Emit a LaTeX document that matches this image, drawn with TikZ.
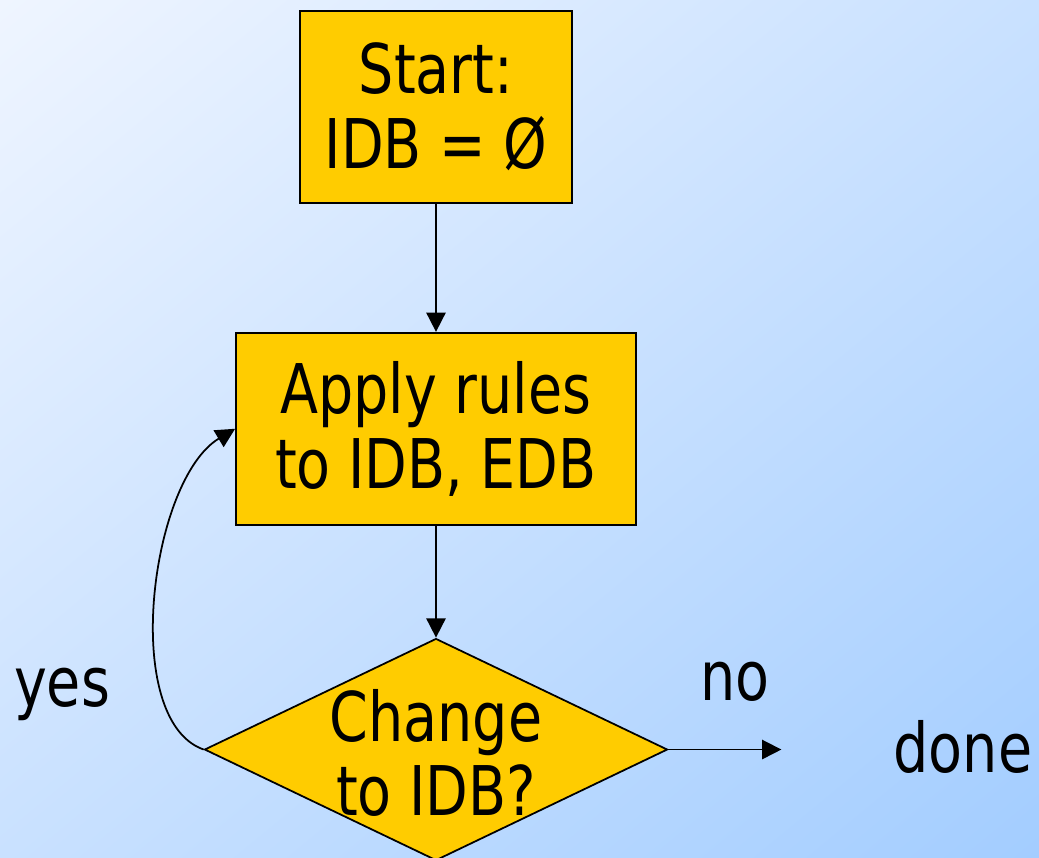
\documentclass[tikz,border=0pt]{standalone}
\usepackage{fontspec}
\setmainfont[FakeStretch=0.9]{DejaVu Sans Condensed}
\usepackage{tikz}
\usetikzlibrary{shapes.geometric,arrows.meta,positioning,calc,shadings}

\definecolor{gold}{HTML}{FFCC00}
\definecolor{bgtop}{HTML}{EFF5FF}
\definecolor{bgmid}{HTML}{C9E1FF}
\definecolor{bgbot}{HTML}{A3CDFF}

\begin{document}
\begin{tikzpicture}[
    box/.style={rectangle, draw, line width=1pt, fill=gold, align=center, font=\fontsize{39}{42.5}\selectfont},
    decision/.style={diamond, draw, line width=1pt, fill=gold, inner sep=0pt, minimum width=9.26cm, minimum height=4.44cm},
    bigtext/.style={align=center, font=\fontsize{39}{42.5}\selectfont},
    arrow/.style={-{Triangle[length=11pt, width=11pt]}, line width=1pt}]

    % Background
    \shade[upper left=bgtop, upper right=bgmid, lower left=bgmid, lower right=bgbot] (0,0) rectangle (20.78,-17.14);
    \useasboundingbox (0,0) rectangle (20.78,-17.14);

    % Start
    \node[box, minimum width=5.44cm, minimum height=3.84cm] (start) at (8.72,-2.14) {Start:\\IDB = Ø};

    % Apply rules
    \node[box, minimum width=8cm, minimum height=3.84cm, below=2.56cm of start] (apply) {Apply rules\\to IDB, EDB};

    % Change test
    \node[decision, below=2.24cm of apply] (chg) {};
    \node[bigtext, yshift=-2pt] (chgtext) at (chg) {Change\\to IDB?};

    % Outcome
    \coordinate (exit) at ($(chg.east)+(2.26,0)$);
    \node[bigtext, anchor=base] (yes) at (1.24,-14.12) {yes};
    \node[bigtext, anchor=base] (no) at (14.7,-14.0) {no};
    \node[bigtext, anchor=base] (done) at (19.26,-15.44) {done};

    % Arrows
    \draw[arrow] (start) -- (apply);
    \draw[arrow] (apply) -- (chg);
    \draw[arrow] (chg.east) -- (exit);
    \draw[arrow] (chg.west) .. controls (2.4,-14.4) and (3.0,-9.6) .. (apply.west);

\end{tikzpicture}
\end{document}
